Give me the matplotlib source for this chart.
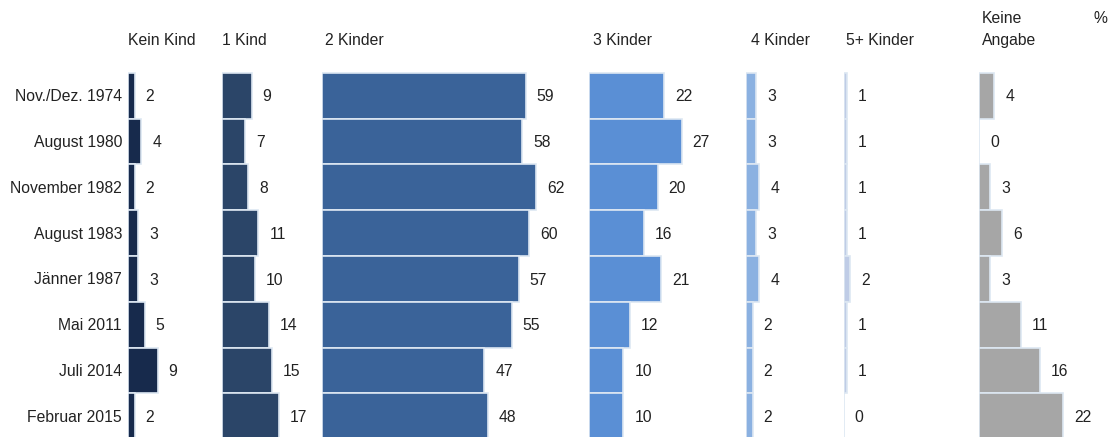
import matplotlib.pyplot as plt

plt.rcParams['font.family'] = ['Liberation Sans', 'DejaVu Sans']

surveys = ['Nov./Dez. 1974', 'August 1980', 'November 1982', 'August 1983',
           'Jänner 1987', 'Mai 2011', 'Juli 2014', 'Februar 2015']
groups = ['Kein Kind', '1 Kind', '2 Kinder', '3 Kinder', '4 Kinder', '5+ Kinder',
          'Keine\nAngabe']

kein_kind = [2, 4, 2, 3, 3, 5, 9, 2]
ein_kind = [9, 7, 8, 11, 10, 14, 15, 17]
zwei_kinder = [59, 58, 62, 60, 57, 55, 47, 48]
drei_kinder = [22, 27, 20, 16, 21, 12, 10, 10]
vier_kinder = [3, 3, 4, 3, 4, 2, 2, 2]
fuenf_kinder = [1, 1, 1, 1, 2, 1, 1, 0]
keine_angabe = [4, 0, 3, 6, 3, 11, 16, 22]

series = [kein_kind, ein_kind, zwei_kinder, drei_kinder, vier_kinder,
          fuenf_kinder, keine_angabe]
colors = ['#172a4c', '#2b4568', '#3a6399', '#5a8fd5', '#8bb1e1', '#bfcce6',
          '#a6a6a6']

# pixel layout: each column is its own small panel with its own px per point
W, H = 1110, 437
col_px = [128, 221.5, 322, 589, 746, 843.5, 979]
px_per_pt = [3.3, 3.36, 3.45, 3.43, 3.3, 3.4, 3.82]
head_px = [128.5, 222.5, 325, 593, 751, 846.5, 982]
row_h = 45.8
top_px = 72.7
fs = 11.3
txt = '#222222'

fig = plt.figure(figsize=(W / 100, H / 100), dpi=100)

y_top = -0.5 - top_px / row_h
y_bot = -0.5 + (H - top_px) / row_h
rows = list(range(len(surveys)))

for vals, start, ppt, color in zip(series, col_px, px_per_pt, colors):
    ax = fig.add_axes([start / W, 0, (W - start) / W, 1])
    ax.set_xlim(0, (W - start) / ppt)
    ax.set_ylim(y_bot, y_top)
    ax.axis('off')
    ax.patch.set_alpha(0)
    ax.barh(rows, vals, height=1.0, color=color, edgecolor='#dde7f2',
            linewidth=1.2)
    for i, v in zip(rows, vals):
        ax.text(v + 11 / ppt, i + 0.03, str(v), ha='left', va='center',
                fontsize=fs, color=txt)

def fy(px):
    return 1 - px / H

for i, name in zip(rows, surveys):
    yc = top_px + (i + 0.5) * row_h + 1
    fig.text(122 / W, fy(yc), name, ha='right', va='center', fontsize=fs,
             color=txt)

# column headers
for name, x in zip(groups, head_px):
    if '\n' in name:
        first, second = name.split('\n')
        fig.text(x / W, fy(18.5), first, ha='left', va='center', fontsize=fs,
                 color=txt)
        fig.text(x / W, fy(41), second, ha='left', va='center', fontsize=fs,
                 color=txt)
    else:
        fig.text(x / W, fy(40.5), name, ha='left', va='center', fontsize=fs,
                 color=txt)
fig.text(1093 / W, fy(18.5), '%', ha='left', va='center', fontsize=fs,
         color=txt)

plt.savefig('out.png', dpi=100)
plt.close()
